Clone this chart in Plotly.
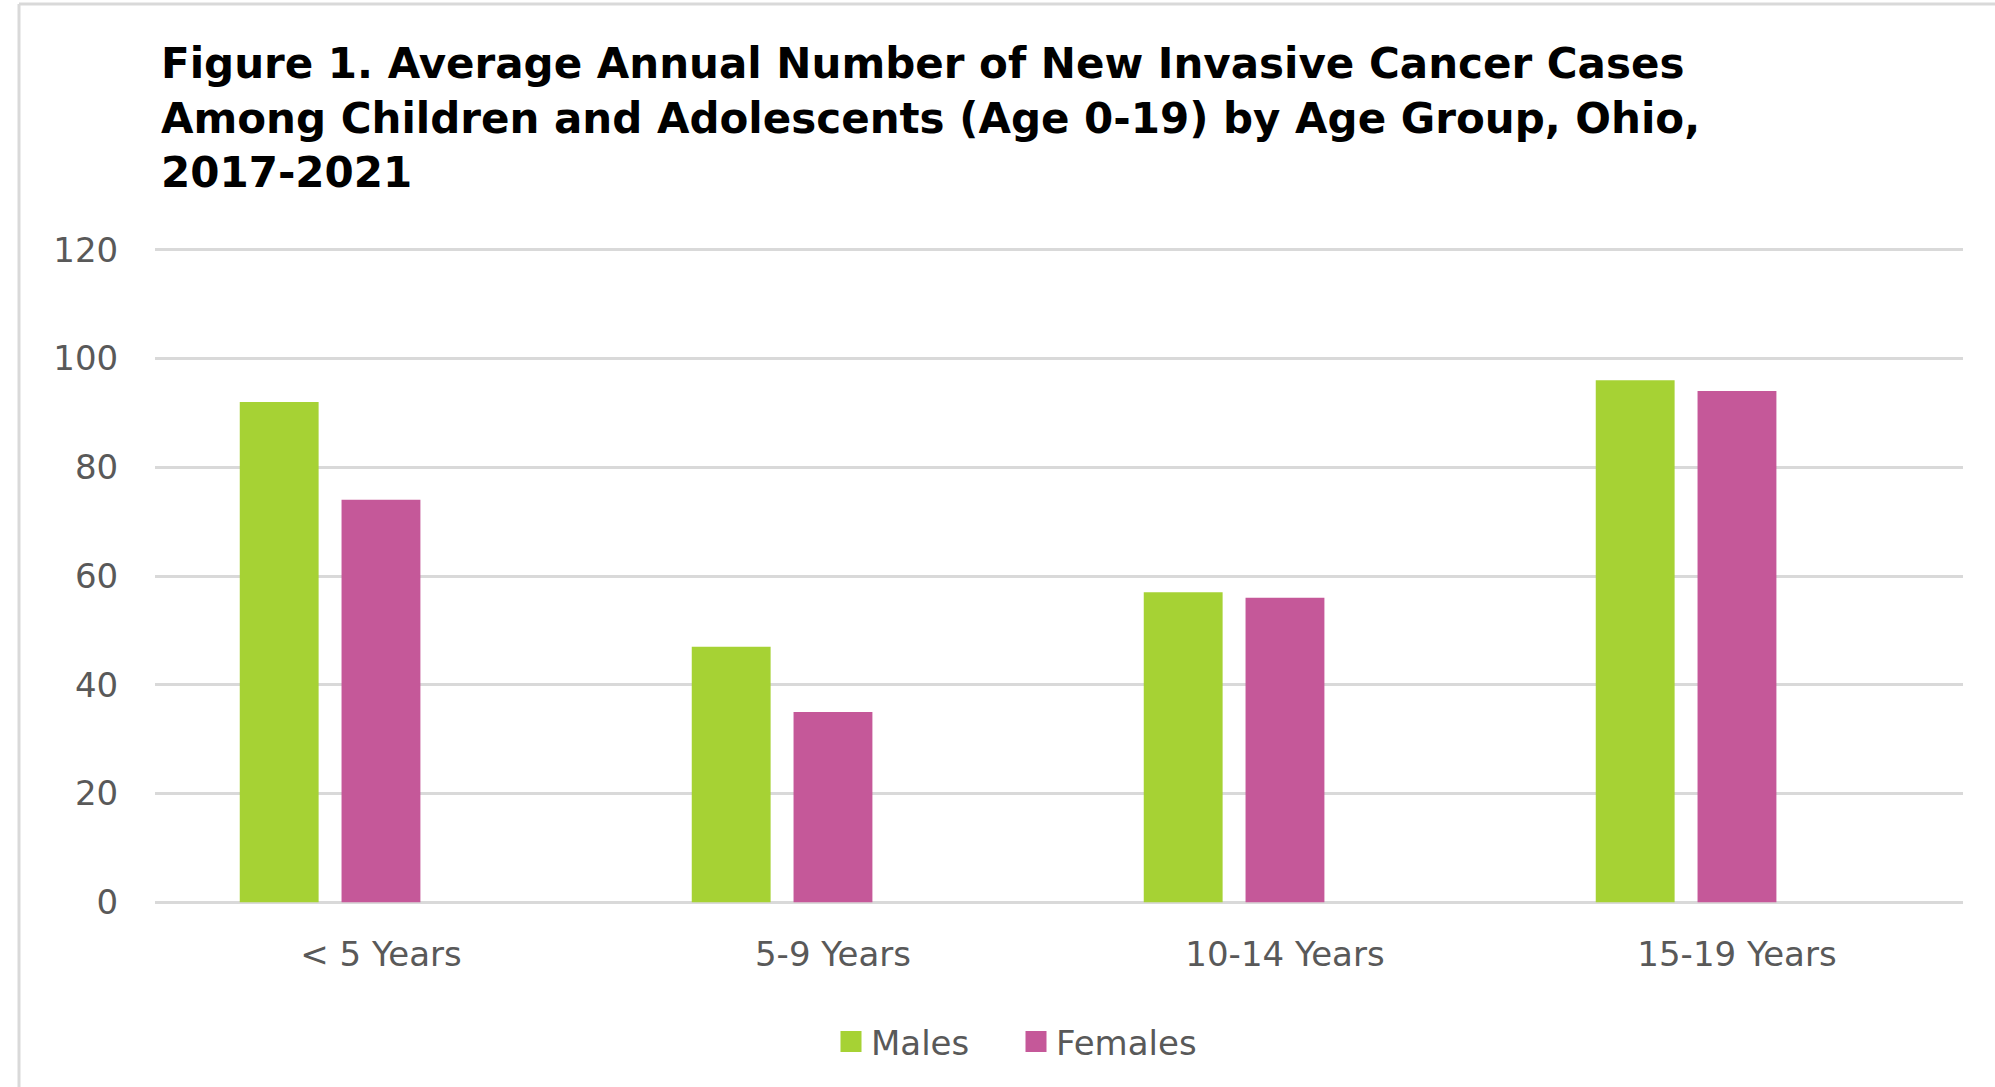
import plotly.graph_objects as go

# ---- data ----
categories = ["< 5 Years", "5-9 Years", "10-14 Years", "15-19 Years"]
males = [92, 47, 57, 96]
females = [74, 35, 56, 94]
series_names = ["Males", "Females"]
y_ticks = [0, 20, 40, 60, 80, 100, 120]

title_lines = [
    "Figure 1. Average Annual Number of New Invasive Cancer Cases",
    "Among Children and Adolescents (Age 0-19) by Age Group, Ohio,",
    "2017-2021",
]

# ---- style ----
W, H = 1995, 1087
ML, MR, MT, MB = 155, 32, 248, 183
GREEN = "#A6D234"
PINK = "#C55899"
GRID = "#D9D9D9"
TXT = "#595959"
FONT = "DejaVu Sans"
FS = 34
BAR_W = 0.1745
OFFSETS = [-0.3125, -0.0873]

fig = go.Figure()
fig.add_trace(go.Bar(x=categories, y=males, name=series_names[0], marker_color=GREEN,
                     marker_line_width=0, width=BAR_W, offset=OFFSETS[0],
                     showlegend=False, legendgroup="m"))
fig.add_trace(go.Bar(x=categories, y=females, name=series_names[1], marker_color=PINK,
                     marker_line_width=0, width=BAR_W, offset=OFFSETS[1],
                     showlegend=False, legendgroup="f"))
# legend entries with larger square swatches
for nm, col, grp, lw in [(series_names[0], GREEN, "m", 140), (series_names[1], PINK, "f", None)]:
    fig.add_trace(go.Scatter(x=[None], y=[None], mode="markers", name=nm, legendgroup=grp,
                             legendwidth=lw,
                             marker=dict(symbol="square", size=16, color=col,
                                         line=dict(width=5, color=col)),
                             hoverinfo="skip"))

pw = W - ML - MR
ph = H - MT - MB
def px_x(p):
    return (p - ML) / pw
def px_y(p):
    return (H - MB - p) / ph

# chart-area border (left and top edges visible)
bx, by = 19, 4
fig.add_shape(type="line", xref="paper", yref="paper", x0=px_x(bx), x1=px_x(bx),
              y0=px_y(by), y1=px_y(H + 20), line=dict(color=GRID, width=3))
fig.add_shape(type="line", xref="paper", yref="paper", x0=px_x(bx), x1=px_x(W + 20),
              y0=px_y(by), y1=px_y(by), line=dict(color=GRID, width=3))

fig.update_layout(
    width=W, height=H, autosize=False,
    margin=dict(l=ML, r=MR, t=MT, b=MB, pad=0),
    paper_bgcolor="white", plot_bgcolor="white",
    barmode="group",
    title=dict(text="<br>".join(title_lines), x=161 / W, xanchor="left",
               y=1 - 78 / H, yanchor="top",
               font=dict(family="DejaVu Sans", size=42, color="#000000",
                         weight="bold")),
    font=dict(family=FONT, color=TXT, size=FS),
    legend=dict(orientation="h", x=px_x(831), xanchor="left", y=px_y(1042),
                yanchor="middle", font=dict(family=FONT, size=FS, color=TXT),
                bgcolor="rgba(0,0,0,0)", borderwidth=0),
    showlegend=True,
)
fig.update_yaxes(range=[-0.3, 120.3], tickvals=y_ticks, showgrid=True, gridcolor=GRID,
                 gridwidth=2.5, zeroline=True, zerolinecolor=GRID, zerolinewidth=2.5,
                 showline=False,
                 ticks="outside", ticklen=29, tickcolor="rgba(0,0,0,0)",
                 tickfont=dict(family=FONT, size=FS, color=TXT))
fig.update_xaxes(showgrid=False, showline=False, zeroline=False,
                 ticks="outside", ticklen=20, tickcolor="rgba(0,0,0,0)",
                 tickfont=dict(family=FONT, size=FS, color=TXT))

fig.write_html("out.html")
